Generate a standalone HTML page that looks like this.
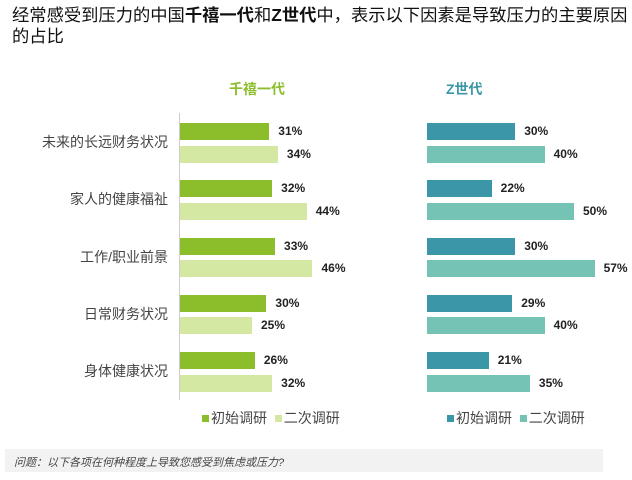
<!DOCTYPE html><html><head><meta charset="utf-8"><style>
body{margin:0;width:632px;height:480px;background:#fff;font-family:"Liberation Sans","Noto Sans CJK SC",sans-serif;position:relative;overflow:hidden}
.a{position:absolute;white-space:nowrap}
.t{left:12px;top:5px;font-size:17.3px;line-height:21px;color:#111}
.c{font-size:14px;color:#444;right:464px;text-align:right}
.b{position:absolute;height:17px}
.v{position:absolute;font-size:12px;font-weight:bold;color:#222}
.lg{font-size:14px;color:#444}
.sq{display:inline-block;width:7px;height:7px;margin-right:2px;vertical-align:1px}
</style></head><body>
<div class="a t">经常感受到压力的中国<b>千禧一代</b>和<b>Z世代</b>中，表示以下因素是导致压力的主要原因<br>的占比</div>
<div class="a" style="left:229px;top:79px;font-size:14px;font-weight:bold;color:#8cbd2a">千禧一代</div>
<div class="a" style="left:446px;top:79px;font-size:14px;font-weight:bold;color:#3b96a8">Z世代</div>
<div class="a" style="left:179px;top:113px;width:1px;height:287px;background:#ccc"></div>
<div id="g"></div>
<script>
var cats=["未来的长远财务状况","家人的健康福祉","工作/职业前景","日常财务状况","身体健康状况"];
var m=[[31,34],[32,44],[33,46],[30,25],[26,32]],z=[[30,40],[22,50],[30,57],[29,40],[21,35]];
var h="";
for(var i=0;i<5;i++){var y=123+i*57.3;
h+='<div class="a c" style="top:'+(y+9)+'px">'+cats[i]+'</div>';
var cols=[["#8cbd2a","#d4e8a3"],["#3b96a8","#75c3b4"]];
[[m,180,2.88,0],[z,427,2.94,1]].forEach(function(s){for(var k=0;k<2;k++){var yy=y+k*22.5,w=s[0][i][k]*s[2];
h+='<div class="b" style="left:'+s[1]+'px;top:'+yy+'px;width:'+w+'px;background:'+cols[s[3]][k]+'"></div>';
h+='<div class="v" style="left:'+(s[1]+w+9)+'px;top:'+(yy+1)+'px">'+s[0][i][k]+'%</div>';}});
}
document.getElementById("g").innerHTML=h;
</script>
<div class="a lg" style="left:202px;top:408px"><span class="sq" style="background:#8cbd2a"></span>初始调研&nbsp;&nbsp;<span class="sq" style="background:#d4e8a3"></span>二次调研</div>
<div class="a lg" style="left:447px;top:408px"><span class="sq" style="background:#3b96a8"></span>初始调研&nbsp;&nbsp;<span class="sq" style="background:#75c3b4"></span>二次调研</div>
<div class="a" style="left:5px;top:449px;width:598px;height:23px;background:#f2f2f2"></div>
<div class="a" style="left:14px;top:454px;font-size:11px;font-style:italic;color:#444">问题：以下各项在何种程度上导致您感受到焦虑或压力?</div>
</body></html>
